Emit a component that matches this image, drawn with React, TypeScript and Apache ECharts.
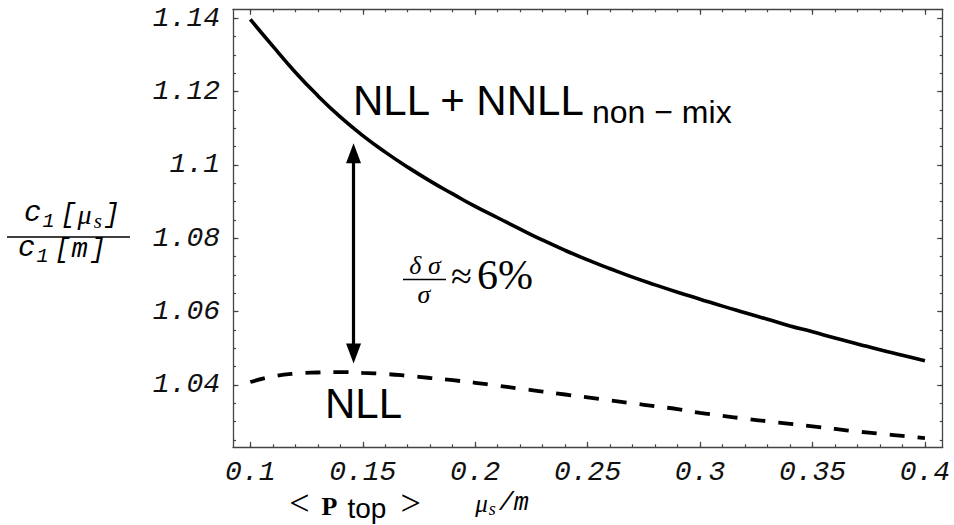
import React, { useEffect, useRef } from "react";
import * as echarts from "echarts";

// mu_s / m sample points
const muOverM = [0.10, 0.11, 0.12, 0.13, 0.14, 0.15, 0.16, 0.17, 0.18, 0.19, 0.20, 0.21, 0.22, 0.23, 0.24, 0.25, 0.26, 0.27, 0.28, 0.29, 0.30, 0.31, 0.32, 0.33, 0.34, 0.35, 0.36, 0.37, 0.38, 0.39, 0.40];
// NLL + NNLL_non-mix (solid)
const nllNnll = [1.1397, 1.1324, 1.1253, 1.1189, 1.1131, 1.1080, 1.1035, 1.0994, 1.0956, 1.0921, 1.0887, 1.0856, 1.0825, 1.0795, 1.0767, 1.0741, 1.0717, 1.0694, 1.0673, 1.0653, 1.0634, 1.0615, 1.0597, 1.0579, 1.0561, 1.0545, 1.0528, 1.0512, 1.0496, 1.0481, 1.0466];
// NLL (dashed)
const nll = [1.0408, 1.0423, 1.0431, 1.0434, 1.0435, 1.0433, 1.0430, 1.0425, 1.0419, 1.0413, 1.0406, 1.0398, 1.0390, 1.0382, 1.0374, 1.0366, 1.0358, 1.0350, 1.0342, 1.0334, 1.0324, 1.0316, 1.0308, 1.0301, 1.0294, 1.0287, 1.0280, 1.0273, 1.0267, 1.0261, 1.0255];

const xMajorTicks = [0.1, 0.15, 0.2, 0.25, 0.3, 0.35, 0.4];
const xMinorTicks = [0.1, 0.11, 0.12, 0.13, 0.14, 0.15, 0.16, 0.17, 0.18, 0.19, 0.2, 0.21, 0.22, 0.23, 0.24, 0.25, 0.26, 0.27, 0.28, 0.29, 0.3, 0.31, 0.32, 0.33, 0.34, 0.35, 0.36, 0.37, 0.38, 0.39, 0.4];
const yMajorTicks = [1.04, 1.06, 1.08, 1.1, 1.12, 1.14];
const yMinorTicks = [1.025, 1.03, 1.035, 1.04, 1.045, 1.05, 1.055, 1.06, 1.065, 1.07, 1.075, 1.08, 1.085, 1.09, 1.095, 1.1, 1.105, 1.11, 1.115, 1.12, 1.125, 1.13, 1.135, 1.14];
const xRange = [0.0923, 0.4079];
const yRange = [1.023, 1.14245];

// double arrow annotation (data coords)
const arrowX = 0.1459;
const arrowTop = 1.1032;
const arrowBottom = 1.0486;

type Piece = { text: string; size: number; family: string; style?: string; weight?: string; dy?: number; dx?: number; lh?: number };

let measureCtx: CanvasRenderingContext2D | null = null;
function fontStr(p: Piece) {
  return `${p.style || "normal"} ${p.weight || "normal"} ${p.size}px ${p.family}`;
}
function measure(p: Piece) {
  if (!measureCtx) measureCtx = document.createElement("canvas").getContext("2d");
  measureCtx!.font = fontStr(p);
  return measureCtx!.measureText(p.text).width;
}
function row(pieces: Piece[], x: number, baseline: number, align: "left" | "center") {
  const widths = pieces.map((p) => measure(p) + (p.dx || 0));
  const total = widths.reduce((a, b) => a + b, 0);
  let cx = align === "center" ? x - total / 2 : x;
  return pieces.map((p, i) => {
    const style: any = {
      text: p.text,
      font: fontStr(p),
      fill: "#000",
      textAlign: "left",
      textVerticalAlign: "middle",
    };
    if (p.lh) style.lineHeight = p.lh;
    const el = {
      type: "text",
      x: cx + (p.dx || 0),
      y: baseline + (p.dy || 0) - 0.35 * p.size,
      silent: true,
      style,
    };
    cx += widths[i];
    return el;
  });
}

const MONO = "'Liberation Mono', 'DejaVu Sans Mono', monospace";
const SERIF = "'Liberation Serif', 'DejaVu Serif', serif";
const SANS = "'Liberation Sans', Arial, sans-serif";
const FRAME = "#444";

function fmt(v: number) {
  return String(parseFloat(Number(v).toFixed(3)));
}

export default function App() {
  const ref = useRef<HTMLDivElement>(null);
  useEffect(() => {
    if (!ref.current) return;
    const chart = echarts.init(ref.current, undefined, { renderer: "svg" });

    const tickLabel = {
      fontFamily: MONO,
      fontStyle: "italic",
      fontSize: 28,
      color: "#111",
    };

    const mkX = (position: string, ticks: number[], len: number, labels: boolean, line: boolean) => ({
      type: "value",
      position,
      min: xRange[0],
      max: xRange[1],
      axisLine: { show: line, onZero: false, lineStyle: { color: FRAME, width: 1.3 } },
      axisTick: { show: true, inside: true, length: len, customValues: ticks, lineStyle: { color: FRAME, width: 1.2 } },
      axisLabel: labels
        ? { show: true, customValues: ticks, margin: 11, formatter: (v: number) => fmt(v), ...tickLabel }
        : { show: false },
      splitLine: { show: false },
    });
    const mkY = (position: string, ticks: number[], len: number, labels: boolean, line: boolean) => ({
      type: "value",
      position,
      min: yRange[0],
      max: yRange[1],
      axisLine: { show: line, onZero: false, lineStyle: { color: FRAME, width: 1.3 } },
      axisTick: { show: true, inside: true, length: len, customValues: ticks, lineStyle: { color: FRAME, width: 1.2 } },
      axisLabel: labels
        ? { show: true, customValues: ticks, margin: 13, formatter: (v: number) => fmt(v), ...tickLabel }
        : { show: false },
      splitLine: { show: false },
    });

    const graphics: any[] = [];
    // NLL + NNLL_non-mix
    graphics.push(...row([{ text: "NLL + NNLL", size: 42, family: SANS }], 353, 115, "left"));
    graphics.push(...row([{ text: "non \u2212 mix", size: 32, family: SANS }], 592, 123, "left"));
    // NLL
    graphics.push(...row([{ text: "NLL", size: 42, family: SANS }], 325, 418, "left"));
    // delta sigma / sigma ≈ 6%
    graphics.push(...row([{ text: "\u03b4 \u03c3", size: 26, family: SERIF, style: "italic", lh: 20 }], 425, 275, "center"));
    graphics.push({ type: "line", silent: true, shape: { x1: 403, y1: 279.5, x2: 446, y2: 279.5 }, style: { stroke: "#000", lineWidth: 1.6 } });
    graphics.push(...row([{ text: "\u03c3", size: 26, family: SERIF, style: "italic", lh: 18 }], 424, 304, "center"));
    graphics.push(...row([{ text: "\u2248", size: 38, family: SERIF }], 451, 289, "left"));
    graphics.push(...row([{ text: "6%", size: 42, family: SERIF }], 477, 290, "left"));
    // y-axis title fraction c1[mu_s] / c1[m]
    graphics.push(
      ...row(
        [
          { text: "c", size: 29, family: MONO, style: "italic" },
          { text: "1", size: 20, family: MONO, style: "italic", dy: 4, dx: 1 },
          { text: "[", size: 27, family: MONO, style: "italic", dx: 6 },
          { text: "\u03bc", size: 28, family: SERIF, style: "italic", dx: 1 },
          { text: "s", size: 21, family: SERIF, style: "italic", dy: 4, dx: 2 },
          { text: "]", size: 27, family: MONO, style: "italic", dx: 2 },
        ],
        72,
        224,
        "center"
      )
    );
    graphics.push({ type: "line", silent: true, shape: { x1: 7, y1: 237, x2: 130, y2: 237 }, style: { stroke: "#000", lineWidth: 1.5 } });
    graphics.push(
      ...row(
        [
          { text: "c", size: 29, family: MONO, style: "italic" },
          { text: "1", size: 20, family: MONO, style: "italic", dy: 4, dx: 1 },
          { text: "[", size: 27, family: MONO, style: "italic", dx: 6 },
          { text: "m", size: 27, family: MONO, style: "italic", dx: 1 },
          { text: "]", size: 27, family: MONO, style: "italic", dx: 2 },
        ],
        62,
        259,
        "center"
      )
    );
    // x-axis title mu_s / m
    graphics.push(
      ...row(
        [
          { text: "\u03bc", size: 25, family: SERIF, style: "italic" },
          { text: "s", size: 18, family: SERIF, style: "italic", dy: 3, dx: 1 },
          { text: "/", size: 25, family: MONO, style: "italic", dx: 3 },
          { text: "m", size: 25, family: MONO, style: "italic" },
        ],
        502,
        512,
        "center"
      )
    );
    // < P top >
    graphics.push(
      ...row(
        [
          { text: "<", size: 36, family: SERIF, lh: 30 },
          { text: "P", size: 26, family: SERIF, weight: "bold", dx: 12, lh: 24 },
          { text: "top", size: 28, family: SANS, dy: 2, dx: 10, lh: 22 },
          { text: ">", size: 36, family: SERIF, dx: 14, lh: 30 },
        ],
        355,
        516,
        "center"
      )
    );

    chart.setOption({
      animation: false,
      backgroundColor: "#fff",
      grid: { left: 233, right: 11.3, top: 9.3, bottom: 77.7, containLabel: false, outerBoundsMode: "none" },
      xAxis: [
        mkX("bottom", xMajorTicks, 5.5, true, true),
        mkX("bottom", xMinorTicks, 3, false, false),
        mkX("top", xMajorTicks, 5.5, false, true),
        mkX("top", xMinorTicks, 3, false, false),
      ],
      yAxis: [
        mkY("left", yMajorTicks, 5.5, true, true),
        mkY("left", yMinorTicks, 3, false, false),
        mkY("right", yMajorTicks, 5.5, false, true),
        mkY("right", yMinorTicks, 3, false, false),
      ],
      series: [
        {
          name: "NLL + NNLL non-mix",
          type: "line",
          xAxisIndex: 0,
          yAxisIndex: 0,
          data: muOverM.map((x, i) => [x, nllNnll[i]]),
          showSymbol: false,
          smooth: true,
          lineStyle: { color: "#000", width: 3.6 },
          markLine: {
            silent: true,
            symbol: ["triangle", "triangle"],
            symbolSize: [15, 20],
            label: { show: false },
            lineStyle: { color: "#000", width: 3.2, type: "solid" },
            emphasis: { disabled: true },
            data: [[{ coord: [arrowX, arrowTop] }, { coord: [arrowX, arrowBottom] }]],
          },
        },
        {
          name: "NLL",
          type: "line",
          xAxisIndex: 0,
          yAxisIndex: 0,
          data: muOverM.map((x, i) => [x, nll[i]]),
          showSymbol: false,
          smooth: true,
          lineStyle: { color: "#000", width: 3.8, type: [15, 13] },
        },
      ],
      graphic: graphics,
    });
    return () => chart.dispose();
  }, []);
  return (
    <div
      ref={ref}
      style={{ position: "fixed", left: 0, top: 0, width: 954, height: 525, background: "#fff" }}
    />
  );
}
